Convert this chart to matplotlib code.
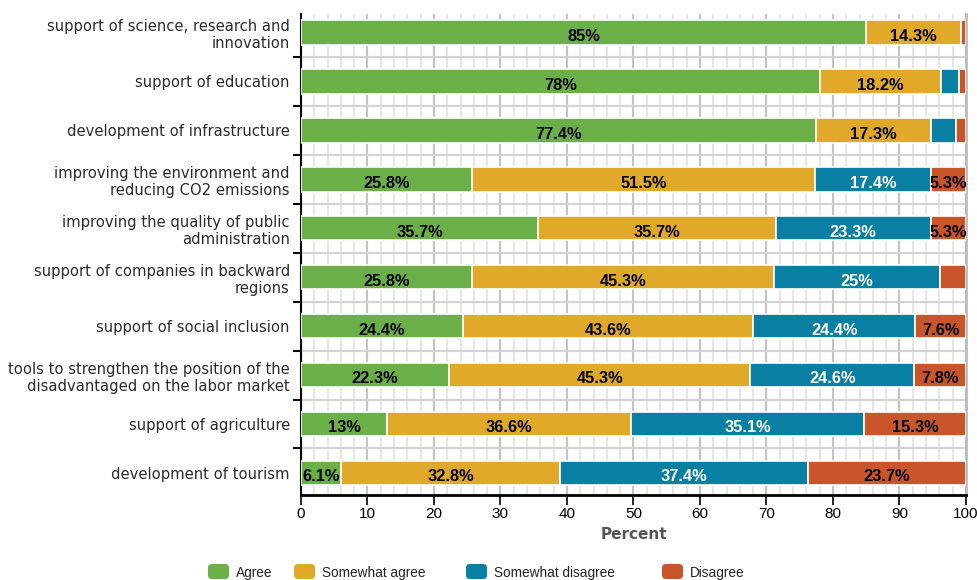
import matplotlib.pyplot as plt
import numpy as np
from matplotlib.ticker import MultipleLocator, FixedLocator
from matplotlib.patches import FancyBboxPatch

categories = [
    "support of science, research and\ninnovation",
    "support of education",
    "development of infrastructure",
    "improving the environment and\nreducing CO2 emissions",
    "improving the quality of public\nadministration",
    "support of companies in backward\nregions",
    "support of social inclusion",
    "tools to strengthen the position of the\ndisadvantaged on the labor market",
    "support of agriculture",
    "development of tourism",
]
series = ["Agree", "Somewhat agree", "Somewhat disagree", "Disagree"]
agree = [85, 78, 77.4, 25.8, 35.7, 25.8, 24.4, 22.3, 13, 6.1]
somewhat_agree = [14.3, 18.2, 17.3, 51.5, 35.7, 45.3, 43.6, 45.3, 36.6, 32.8]
somewhat_disagree = [0, 2.8, 3.8, 17.4, 23.3, 25, 24.4, 24.6, 35.1, 37.4]
disagree = [0.7, 1.0, 1.5, 5.3, 5.3, 3.9, 7.6, 7.8, 15.3, 23.7]

colors = ["#6aaf47", "#e0a92a", "#0a7fa4", "#c9562a"]
text_colors = ["black", "black", "white", "black"]

W, H = 977, 580
fig = plt.figure(figsize=(W / 100, H / 100), dpi=100)
ax = fig.add_axes([0.308, 0.1466, 0.6807, 0.8294])

y = np.arange(len(categories))
left = np.zeros(len(categories))
for vals, col, tcol in zip([agree, somewhat_agree, somewhat_disagree, disagree], colors, text_colors):
    vals = np.array(vals, dtype=float)
    ax.barh(y, vals, left=left, height=0.5, color=col, edgecolor="white", linewidth=1.2, zorder=3)
    for yi, v, l in zip(y, vals, left):
        if v >= 5:
            ax.text(l + v / 2, yi + 0.08, f"{v:g}%", ha="center", va="center",
                    fontsize=11.8, fontweight="bold", color=tcol,
                    family="Liberation Sans", zorder=4)
    left += vals

ax.set_xlim(0, 100)
ax.set_ylim(9.45, -0.38)

# x grid
ax.xaxis.set_major_locator(MultipleLocator(10))
ax.xaxis.set_minor_locator(MultipleLocator(2))
ax.grid(axis="x", which="major", color="#c4c4c4", linewidth=1.6, zorder=0)
ax.grid(axis="x", which="minor", color="#e6e6e6", linewidth=1.4, zorder=0)

# y ticks at boundaries, labels in between
ax.yaxis.set_major_locator(FixedLocator(np.arange(0.5, len(categories) - 0.5, 1)))
ax.yaxis.set_minor_locator(FixedLocator(y))
ax.set_yticklabels([], minor=False)
ax.set_yticklabels(categories, minor=True, fontsize=10.6, color="#2a2a2a", family="DejaVu Sans")
ax.tick_params(axis="y", which="major", length=6, width=1.5, color="black")
ax.tick_params(axis="y", which="minor", length=0, pad=8)
ax.grid(axis="y", which="major", color="#d4d4d4", linewidth=1.6, zorder=0)
for lab in ax.get_yticklabels(minor=True):
    lab.set_horizontalalignment("right")
    lab.set_multialignment("right")

ax.tick_params(axis="x", which="major", length=7, width=1.2, labelsize=11, pad=2)
ax.tick_params(axis="x", which="minor", length=0)
for lab in ax.get_xticklabels():
    lab.set_family("Liberation Sans")

ax.set_xlabel("Percent", fontsize=11, color="#555555", fontweight="bold", family="DejaVu Sans", labelpad=4)

ax.spines["top"].set_visible(False)
ax.spines["right"].set_color("#bbbbbb")
ax.spines["right"].set_linewidth(2)
ax.spines["left"].set_linewidth(1.5)
ax.spines["bottom"].set_linewidth(2)

# legend drawn item by item (pixel positions from the reference layout)
legend_x = [208, 294, 466, 662]
for px, name, col in zip(legend_x, series, colors):
    fig.patches.append(FancyBboxPatch((px / W, (H - 579) / H), 21 / W, 15 / H,
                                      boxstyle="round,pad=0,rounding_size=0.004",
                                      transform=fig.transFigure, facecolor=col,
                                      edgecolor="none", mutation_aspect=W / H))
    fig.text((px + 28) / W, (H - 573) / H, name, ha="left", va="center",
             fontsize=9.8, family="Liberation Sans", color="#222222")

fig.savefig("out.png", dpi=100)
